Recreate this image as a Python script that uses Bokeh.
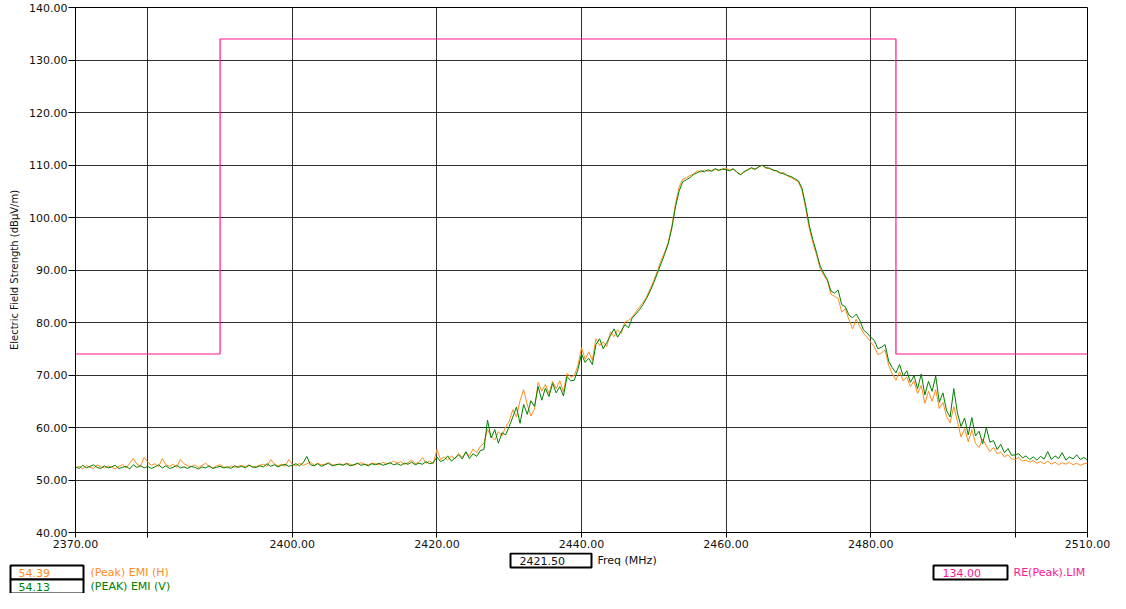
import numpy as np
from bokeh.plotting import figure
from bokeh.layouts import column
from bokeh.models import FixedTicker
from bokeh.core.properties import value
from bokeh.embed import file_html
from bokeh.resources import INLINE

# ---- data ----
freq_start = 2370.0
freq_step = 0.5

emi_h = (
    [52.3, 52.6, 52.1, 52.8, 52.4, 52.2, 52.9, 52.5, 52.3, 52.7, 52.4, 52.1, 52.6, 52.9, 52.3, 53.2, 54.1, 53.0, 52.6, 54.3]
    + [53.4, 52.8, 53.1, 52.5, 54.1, 52.9, 52.6, 53.0, 52.4, 53.9, 53.1, 52.7, 52.5, 52.9, 52.4, 52.8, 53.2, 52.6, 52.3, 52.7]
    + [52.9, 52.5, 52.3, 52.7, 52.4, 52.6, 52.8, 52.5, 52.9, 52.4, 52.6, 52.8, 53.0, 52.6, 53.9, 53.1, 52.7, 53.0, 52.6, 53.9]
    + [53.0, 52.7, 53.2, 52.8, 53.1, 53.4, 52.8, 53.2, 52.9, 53.0, 53.3, 52.9, 52.8, 53.1, 52.9, 53.2, 53.0, 52.8, 53.1, 53.3]
    + [53.0, 52.9, 53.2, 53.1, 52.9, 53.4, 53.1, 53.2, 53.6, 53.2, 53.5, 53.0, 53.3, 53.8, 53.1, 53.4, 54.3, 53.2, 53.6, 53.1]
    + [55.8, 53.9, 54.4, 53.8, 54.6, 54.0, 55.1, 54.3, 55.2, 54.6, 55.9, 55.2, 56.4, 57.0, 59.6, 58.3, 57.6, 59.2, 58.4, 60.1]
    + [61.2, 63.4, 62.0, 65.1, 67.2, 64.3, 62.2, 63.5, 68.6, 66.9, 68.2, 66.5, 68.8, 67.4, 68.9, 66.8, 70.3, 69.6, 69.9, 71.8]
    + [75.2, 73.0, 74.4, 72.8, 76.9, 75.6, 76.3, 75.4, 78.2, 77.3, 78.6, 77.9, 80.1, 80.4, 81.0, 82.0, 82.9, 83.8, 84.9, 86.4]
    + [88.0, 89.8, 91.8, 93.4, 95.3, 98.4, 102.6, 105.8, 107.3, 107.6, 108.0, 108.3, 108.9, 108.6, 109.1, 108.8, 109.0, 109.2, 108.9, 109.3]
    + [109.4, 109.0, 109.2, 108.7, 108.2, 108.6, 109.2, 109.4, 109.1, 109.7, 109.9, 109.4, 109.3, 109.1, 108.8, 108.4, 108.6, 107.9, 107.6, 107.2]
    + [106.8, 105.2, 101.8, 98.0, 95.2, 93.0, 90.3, 89.0, 88.0, 85.4, 85.0, 84.6, 82.0, 82.6, 80.5, 78.8, 80.6, 79.2, 78.0, 77.2]
    + [76.3, 75.4, 73.9, 74.2, 74.8, 71.8, 70.2, 69.0, 70.6, 68.9, 69.6, 67.8, 68.8, 66.5, 68.0, 64.6, 66.9, 65.0, 67.2, 63.6]
    + [64.8, 62.1, 60.9, 64.0, 61.2, 58.2, 59.8, 57.3, 59.6, 57.0, 56.2, 57.8, 56.5, 55.4, 56.2, 55.0, 55.3, 54.4, 54.8, 54.0]
    + [53.9, 54.3, 53.6, 53.8, 53.4, 53.7, 53.2, 53.5, 53.1, 53.6, 53.0, 53.4, 52.9, 53.3, 53.0, 53.4, 52.9, 53.2, 52.8, 53.1, 53.2]
)

emi_v = (
    [52.5, 52.2, 52.8, 52.3, 52.6, 52.9, 52.4, 52.2, 52.7, 52.3, 52.5, 52.8, 52.2, 52.4, 52.6, 52.1, 52.9, 52.4, 52.7, 52.3]
    + [52.6, 52.2, 52.5, 52.9, 52.3, 52.7, 52.2, 52.4, 52.8, 52.3, 52.5, 52.2, 52.6, 52.4, 52.1, 52.5, 52.3, 52.7, 52.2, 52.4]
    + [52.6, 52.3, 52.5, 52.2, 52.7, 52.4, 52.6, 52.3, 52.8, 52.5, 52.4, 52.7, 52.5, 53.1, 52.6, 52.9, 52.5, 52.8, 53.0, 52.6]
    + [52.8, 53.1, 52.7, 53.3, 54.5, 52.9, 52.7, 53.1, 52.6, 52.9, 53.2, 52.7, 52.9, 53.0, 52.8, 53.1, 52.7, 52.9, 53.2, 52.8]
    + [53.0, 52.7, 53.1, 52.9, 53.2, 52.8, 53.0, 53.3, 52.9, 53.1, 52.8, 53.2, 53.0, 53.4, 52.9, 53.2, 53.0, 53.5, 53.1, 53.3]
    + [54.4, 53.5, 53.8, 54.6, 53.6, 54.2, 54.8, 54.0, 55.4, 54.1, 55.0, 54.5, 55.6, 55.8, 61.4, 58.0, 59.6, 57.0, 59.0, 58.6]
    + [60.2, 62.0, 63.9, 60.8, 64.4, 62.5, 65.1, 64.0, 67.8, 65.2, 67.5, 65.9, 68.4, 66.6, 67.8, 66.0, 69.7, 68.9, 69.0, 71.0]
    + [74.0, 72.4, 73.2, 72.0, 75.8, 76.9, 75.0, 76.2, 77.5, 78.8, 77.2, 78.4, 79.6, 79.0, 80.8, 81.6, 82.4, 83.4, 84.6, 86.0]
    + [87.6, 89.4, 91.2, 93.0, 95.0, 98.0, 102.0, 105.0, 106.8, 107.2, 107.6, 108.2, 108.5, 108.9, 108.7, 109.1, 108.8, 109.3, 109.0, 109.2]
    + [109.1, 108.9, 109.3, 108.6, 108.1, 108.8, 109.0, 109.5, 109.2, 109.6, 110.0, 109.5, 109.4, 109.0, 108.9, 108.5, 108.3, 108.0, 107.8, 107.4]
    + [107.0, 105.6, 102.4, 98.6, 95.8, 93.4, 90.8, 89.4, 88.2, 86.0, 85.6, 86.2, 83.4, 83.0, 81.4, 80.9, 81.6, 80.4, 78.6, 78.0]
    + [77.2, 76.6, 75.0, 75.3, 75.8, 72.6, 71.4, 70.4, 72.0, 69.8, 70.8, 68.6, 69.9, 67.4, 70.2, 66.2, 68.8, 66.9, 69.8, 64.8]
    + [66.6, 63.2, 62.0, 67.4, 62.8, 60.2, 61.8, 58.6, 61.9, 58.4, 59.3, 56.9, 60.0, 57.2, 57.5, 55.8, 56.8, 55.2, 56.0, 54.7]
    + [54.8, 55.0, 54.2, 54.6, 53.9, 54.4, 53.8, 54.5, 54.0, 55.4, 53.9, 54.6, 54.1, 55.2, 53.8, 54.4, 54.0, 54.8, 53.9, 54.3, 53.8]
)

limit_freq = [2370, 2390, 2390, 2483.5, 2483.5, 2510]
limit_level = [74, 74, 134, 134, 74, 74]

x_ticks = [2370, 2380, 2400, 2420, 2440, 2460, 2480, 2500, 2510]
x_labels = ["2370.00", "", "2400.00", "2420.00", "2440.00", "2460.00", "2480.00", "", "2510.00"]
y_ticks = [40, 50, 60, 70, 80, 90, 100, 110, 120, 130, 140]
y_labels = ["40.00", "50.00", "60.00", "70.00", "80.00", "90.00", "100.00", "110.00", "120.00", "130.00", "140.00"]

marker_freq = "2421.50"
marker_h = "54.39"
marker_v = "54.13"
marker_lim = "134.00"
name_h = "(Peak) EMI (H)"
name_v = "(PEAK) EMI (V)"
name_lim = "RE(Peak).LIM"
x_title = "Freq (MHz)"
y_title = "Electric Field Strength (dB\u00b5V/m)"

# ---- styles ----
ORANGE = "#FF8C1A"
GREEN = "#008000"
PINK = "#FF1493"
TEXT = "#111111"
FONT = "DejaVu Sans"
W = 1110
H_MAIN = 552
H_FOOT = 41

freq_h = freq_start + freq_step * np.arange(len(emi_h))
freq_v = freq_start + freq_step * np.arange(len(emi_v))

p = figure(width=W, height=H_MAIN, x_range=(2370, 2510), y_range=(40, 140),
           output_backend="svg", toolbar_location=None,
           min_border_left=75, min_border_right=23, min_border_top=7, min_border_bottom=20,
           background_fill_color="white", border_fill_color="white")
p.frame_align = False

p.outline_line_color = "black"
p.outline_line_width = 1
p.outline_line_alpha = 1

xt = FixedTicker(ticks=x_ticks)
yt = FixedTicker(ticks=y_ticks)
p.xaxis.ticker = xt
p.yaxis.ticker = yt
p.xgrid.ticker = xt
p.ygrid.ticker = yt
p.xaxis.major_label_overrides = {t: l for t, l in zip(x_ticks, x_labels)}
p.yaxis.major_label_overrides = {t: l for t, l in zip(y_ticks, y_labels)}

for g in (p.xgrid, p.ygrid):
    g.grid_line_color = "#1a1a1a"
    g.grid_line_alpha = 0.9
    g.grid_line_width = 1

for ax in (p.xaxis, p.yaxis):
    ax.axis_line_color = "black"
    ax.major_tick_line_color = "black"
    ax.major_tick_in = 0
    ax.minor_tick_in = 0
    ax.minor_tick_out = 0
    ax.major_label_text_font = FONT
    ax.major_label_text_font_size = "11px"
    ax.major_label_text_color = TEXT

p.xaxis.major_tick_out = 5
p.xaxis.major_label_standoff = 2
p.yaxis.major_tick_out = 7
p.yaxis.major_label_standoff = 1
p.yaxis.axis_label = y_title
p.yaxis.axis_label_text_font = FONT
p.yaxis.axis_label_text_font_size = "10px"
p.yaxis.axis_label_text_font_style = "normal"
p.yaxis.axis_label_text_color = TEXT
p.yaxis.axis_label_standoff = 6

p.line(limit_freq, limit_level, line_color=PINK, line_width=1.2)
p.line(freq_h, emi_h, line_color=ORANGE, line_width=1)
p.line(freq_v, emi_v, line_color=GREEN, line_width=1)

# ---- footer: marker read-outs, in pixel coordinates (y downward) ----
f = figure(width=W, height=H_FOOT, x_range=(0, W), y_range=(H_FOOT, 0),
           output_backend="svg", toolbar_location=None,
           x_axis_location=None, y_axis_location=None,
           min_border=0, min_border_left=0, min_border_right=0,
           min_border_top=0, min_border_bottom=0,
           background_fill_color="white", border_fill_color="white")
f.frame_align = False
f.outline_line_color = None
f.grid.visible = False

f.quad(left=[10, 10, 510, 933], right=[83, 83, 591, 1007],
       top=[13, 27, 1, 13], bottom=[27, 41, 15, 27],
       fill_color="white", line_color="black", line_width=2)

f.text(x=[18, 90], y=[20, 20], text=[marker_h, name_h], text_color=ORANGE,
       text_baseline="middle", text_font=value(FONT), text_font_size="11px")
f.text(x=[18, 90], y=[34, 34], text=[marker_v, name_v], text_color=GREEN,
       text_baseline="middle", text_font=value(FONT), text_font_size="11px")
f.text(x=[519, 597], y=[8, 8], text=[marker_freq, x_title], text_color=TEXT,
       text_baseline="middle", text_font=value(FONT), text_font_size="11px")
f.text(x=[942, 1013], y=[20, 20], text=[marker_lim, name_lim], text_color=PINK,
       text_baseline="middle", text_font=value(FONT), text_font_size="11px")

layout = column(p, f, spacing=0)
open("out.html", "w").write(file_html(layout, INLINE))
